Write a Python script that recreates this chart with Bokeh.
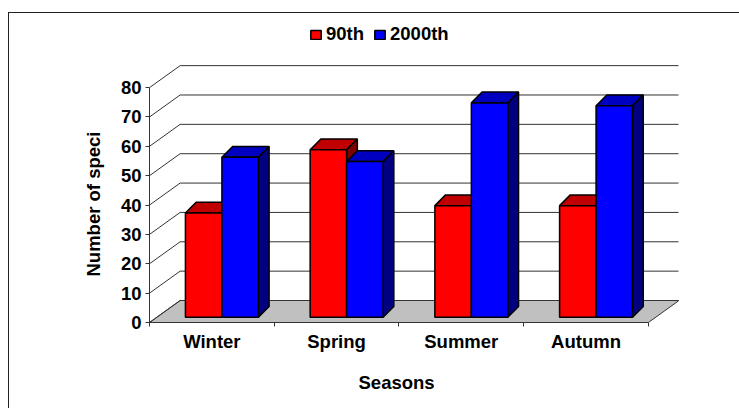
from bokeh.embed import file_html
from bokeh.resources import INLINE
from bokeh.plotting import figure
from bokeh.models import (FixedTicker, Range1d, Legend, LegendItem, Title)

seasons = ["Winter", "Spring", "Summer", "Autumn"]
series_90th = [35.5, 57, 38, 38]
series_2000th = [54.5, 53, 73, 72]
y_ticks = [0, 10, 20, 30, 40, 50, 60, 70, 80]

FONT = "Liberation Sans"
FS = "18.5px"
DX, DY = 0.2456, 7.49          # full depth of the floor, in data units
GAP, BAR = 0.207, 0.2925       # bar placement inside a category
ZX0, ZX1 = 0.33, 0.68          # bars occupy the middle of the depth
ZY0, ZY1 = 0.24, 0.73

p = figure(width=731, height=396, output_backend="svg", toolbar_location=None,
           x_range=Range1d(0, 4.2415), y_range=Range1d(0, 103.2),
           min_border_left=140, min_border_right=62, min_border_top=6, min_border_bottom=87,
           outline_line_color=None, background_fill_color="white", border_fill_color="white")
p.grid.visible = False
p.margin = (12, 0, 0, 8)
p.styles = {"border-left": "1.5px solid #222222", "border-top": "1.5px solid #222222"}

# floor and walls
p.patch([0, 4, 4 + DX, DX], [0, 0, DY, DY], fill_color="#C0C0C0",
        line_color="#333333", line_width=1)
p.multi_line([[0, DX, 4 + DX] for v in y_ticks],
             [[v, v + DY, v + DY] for v in y_ticks],
             line_color="#333333", line_width=1)


def faces(values, shift):
    front, top, side = ([], []), ([], []), ([], [])
    for i, v in enumerate(values):
        l = i + GAP + shift * BAR
        r = l + BAR
        ax, ay = ZX0 * DX, ZY0 * DY
        bx, by = ZX1 * DX, ZY1 * DY
        front[0].append([l + ax, r + ax, r + ax, l + ax])
        front[1].append([ay, ay, v + ay, v + ay])
        top[0].append([l + ax, r + ax, r + bx, l + bx])
        top[1].append([v + ay, v + ay, v + by, v + by])
        side[0].append([r + ax, r + bx, r + bx, r + ax])
        side[1].append([ay, by, v + by, v + ay])
    return front, top, side


legend_items = []
for name, vals, shift, c_front, c_top, c_side in [
        ("90th", series_90th, 0, "#FF0000", "#C00000", "#800000"),
        ("2000th", series_2000th, 1, "#0000FF", "#0000C0", "#000080")]:
    front, top, side = faces(vals, shift)
    p.patches(top[0], top[1], fill_color=c_top, line_color="black", line_width=1.5)
    p.patches(side[0], side[1], fill_color=c_side, line_color="black", line_width=1.5)
    r = p.patches(front[0], front[1], fill_color=c_front, line_color="black", line_width=1.5)
    legend_items.append(LegendItem(label=name, renderers=[r]))

# axes
xa = p.xaxis[0]
xa.ticker = FixedTicker(ticks=[i + 0.5 for i in range(len(seasons))],
                        minor_ticks=list(range(len(seasons) + 1)))
xa.major_label_overrides = {i + 0.5: s for i, s in enumerate(seasons)}
xa.major_tick_line_color = None
xa.major_tick_out = 0
xa.major_tick_in = 0
xa.minor_tick_out = 4
xa.minor_tick_in = 0
xa.minor_tick_line_color = "#333333"
xa.bounds = (0, 4)
xa.axis_line_color = "#333333"
xa.major_label_text_font = FONT
xa.major_label_text_font_style = "bold"
xa.major_label_text_font_size = FS
xa.major_label_text_color = "black"
xa.major_label_standoff = 4

ya = p.yaxis[0]
ya.ticker = FixedTicker(ticks=y_ticks, minor_ticks=[])
ya.major_tick_out = 4
ya.major_tick_in = 0
ya.major_tick_line_color = "#333333"
ya.bounds = (0, 80)
ya.axis_line_color = "#333333"
ya.major_label_text_font = FONT
ya.major_label_text_font_style = "bold"
ya.major_label_text_font_size = FS
ya.major_label_text_color = "black"
ya.major_label_standoff = 4

p.add_layout(Title(text="Seasons", align="left", offset=209, standoff=31, text_font=FONT,
                   text_font_style="bold", text_font_size=FS, text_color="black"), "below")
p.add_layout(Title(text="Number of speci", align="left", offset=46, standoff=27, text_font=FONT,
                   text_font_style="bold", text_font_size=FS, text_color="black"), "left")

legend = Legend(items=legend_items, orientation="horizontal", location=(160, 277),
                padding=0, margin=0, spacing=9, border_line_color=None,
                background_fill_alpha=0, glyph_width=13, glyph_height=11, label_standoff=4,
                label_text_font=FONT, label_text_font_style="bold",
                label_text_font_size=FS, label_text_color="black")
p.add_layout(legend, "center")

open("out.html", "w").write(file_html(p, INLINE))
